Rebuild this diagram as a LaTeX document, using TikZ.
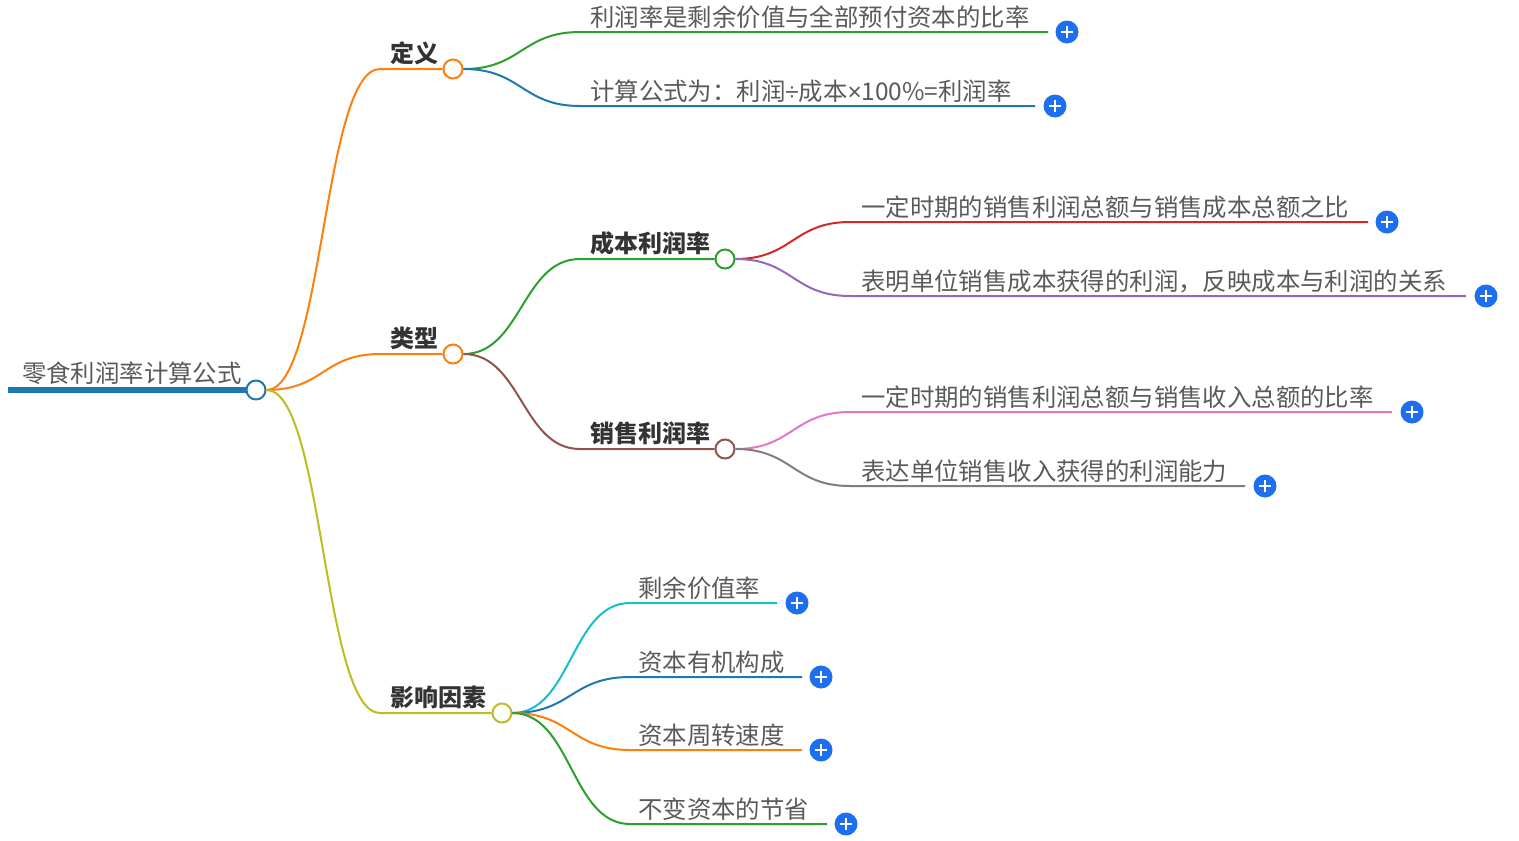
\documentclass[tikz,border=0pt]{standalone}
\usepackage{fontspec}
\newfontfamily\cjk{Noto Sans CJK SC}
\newfontfamily\latinsym{Liberation Sans}
\definecolor{tblue}{HTML}{1F77B4}
\definecolor{torange}{HTML}{FF7F0E}
\definecolor{tgreen}{HTML}{2CA02C}
\definecolor{tred}{HTML}{D62728}
\definecolor{tpurple}{HTML}{9467BD}
\definecolor{tbrown}{HTML}{8C564B}
\definecolor{tpink}{HTML}{E377C2}
\definecolor{tgray}{HTML}{7F7F7F}
\definecolor{tolive}{HTML}{BCBD22}
\definecolor{tcyan}{HTML}{17BECF}
\definecolor{txtgray}{HTML}{5A5A5A}
\definecolor{lblgray}{HTML}{333333}
\definecolor{plusblue}{HTML}{1E6FF0}
\begin{document}
\begin{tikzpicture}[x=1pt,y=-1pt,
  txt/.style={font=\cjk\fontsize{24.4}{28}\selectfont, text=txtgray, inner sep=0, anchor=base west},
  lbl/.style={font=\cjk\bfseries\fontsize{24}{28}\selectfont, text=lblgray, inner sep=0, anchor=base west},
  dot/.style={circle, draw=#1, line width=2pt, fill=white, minimum size=19pt, inner sep=0},
  plusbtn/.style={circle, fill=plusblue, minimum size=23pt, inner sep=0,
    path picture={\draw[white, line width=2.4pt]
      ([xshift=-6pt]path picture bounding box.center) -- ([xshift=6pt]path picture bounding box.center)
      ([yshift=-6pt]path picture bounding box.center) -- ([yshift=6pt]path picture bounding box.center);}},
  link/.style={line width=2pt, draw=#1}]
\useasboundingbox (0,0) rectangle (1519,841);

% root
\node[txt] (roottxt) at (22,382) {零食利润率计算公式};
\coordinate (r0) at (8,390);
\node[dot=tblue] (root) at (256,390) {};
\draw[line width=5.5pt, tblue] (r0) -- (root.west);

% level 1
\node[lbl] (deftxt) at (390,62) {定义};
\node[dot=torange] (def) at (453,69) {};
\coordinate (d0) at (380,69);
\draw[link=torange] (root.east) .. controls +(57,0) and +(-57,0) .. (d0) -- (def.west);

\node[lbl] (typtxt) at (390,347) {类型};
\node[dot=torange] (typ) at (453,354) {};
\coordinate (t0) at (380,354);
\draw[link=torange] (root.east) .. controls +(57,0) and +(-57,0) .. (t0) -- (typ.west);

\node[lbl] (inftxt) at (390,706) {影响因素};
\node[dot=tolive] (inf) at (502,713) {};
\coordinate (i0) at (380,713);
\draw[link=tolive] (root.east) .. controls +(57,0) and +(-57,0) .. (i0) -- (inf.west);

% definition children
\node[txt] (a1) at (590,26) {利润率是剩余价值与全部预付资本的比率};
\coordinate (a1s) at (580,32); \coordinate (a1e) at (1048,32);
\draw[link=tgreen] (def.east) .. controls +(58,0) and +(-58,0) .. (a1s) -- (a1e);
\node[plusbtn] (pa1) at (1067,32) {};

\node[txt] (a2) at (590,100) {计算公式为：利润{\latinsym ÷}成本{\latinsym ×}100\%=利润率};
\coordinate (a2s) at (580,106); \coordinate (a2e) at (1035,106);
\draw[link=tblue] (def.east) .. controls +(58,0) and +(-58,0) .. (a2s) -- (a2e);
\node[plusbtn] (pa2) at (1055,106) {};

% type children
\node[lbl] (cbtxt) at (590,252) {成本利润率};
\node[dot=tgreen] (cb) at (725,259) {};
\coordinate (cbs) at (580,259);
\draw[link=tgreen] (typ.east) .. controls +(58,0) and +(-58,0) .. (cbs) -- (cb.west);

\node[lbl] (xstxt) at (590,442) {销售利润率};
\node[dot=tbrown] (xs) at (725,449) {};
\coordinate (xss) at (580,449);
\draw[link=tbrown] (typ.east) .. controls +(58,0) and +(-58,0) .. (xss) -- (xs.west);

% 成本利润率 children
\node[txt] (b1) at (861,216) {一定时期的销售利润总额与销售成本总额之比};
\coordinate (b1s) at (850,222); \coordinate (b1e) at (1368,222);
\draw[link=tred] (cb.east) .. controls +(57,0) and +(-57,0) .. (b1s) -- (b1e);
\node[plusbtn] (pb1) at (1387,222) {};

\node[txt] (b2) at (861,290) {表明单位销售成本获得的利润，反映成本与利润的关系};
\coordinate (b2s) at (850,296); \coordinate (b2e) at (1466,296);
\draw[link=tpurple] (cb.east) .. controls +(57,0) and +(-57,0) .. (b2s) -- (b2e);
\node[plusbtn] (pb2) at (1486,296) {};

% 销售利润率 children
\node[txt] (c1) at (861,406) {一定时期的销售利润总额与销售收入总额的比率};
\coordinate (c1s) at (850,412); \coordinate (c1e) at (1392,412);
\draw[link=tpink] (xs.east) .. controls +(57,0) and +(-57,0) .. (c1s) -- (c1e);
\node[plusbtn] (pc1) at (1412,412) {};

\node[txt] (c2) at (861,480) {表达单位销售收入获得的利润能力};
\coordinate (c2s) at (850,486); \coordinate (c2e) at (1245,486);
\draw[link=tgray] (xs.east) .. controls +(57,0) and +(-57,0) .. (c2s) -- (c2e);
\node[plusbtn] (pc2) at (1265,486) {};

% influence children
\node[txt] (e1) at (638,597) {剩余价值率};
\coordinate (e1s) at (630,603); \coordinate (e1e) at (777,603);
\draw[link=tcyan] (inf.east) .. controls +(59,0) and +(-59,0) .. (e1s) -- (e1e);
\node[plusbtn] (pe1) at (797,603) {};

\node[txt] (e2) at (638,671) {资本有机构成};
\coordinate (e2s) at (630,677); \coordinate (e2e) at (802,677);
\draw[link=tblue] (inf.east) .. controls +(59,0) and +(-59,0) .. (e2s) -- (e2e);
\node[plusbtn] (pe2) at (821,677) {};

\node[txt] (e3) at (638,744) {资本周转速度};
\coordinate (e3s) at (630,750); \coordinate (e3e) at (802,750);
\draw[link=torange] (inf.east) .. controls +(59,0) and +(-59,0) .. (e3s) -- (e3e);
\node[plusbtn] (pe3) at (821,750) {};

\node[txt] (e4) at (638,818) {不变资本的节省};
\coordinate (e4s) at (630,824); \coordinate (e4e) at (827,824);
\draw[link=tgreen] (inf.east) .. controls +(59,0) and +(-59,0) .. (e4s) -- (e4e);
\node[plusbtn] (pe4) at (846,824) {};
\end{tikzpicture}
\end{document}
